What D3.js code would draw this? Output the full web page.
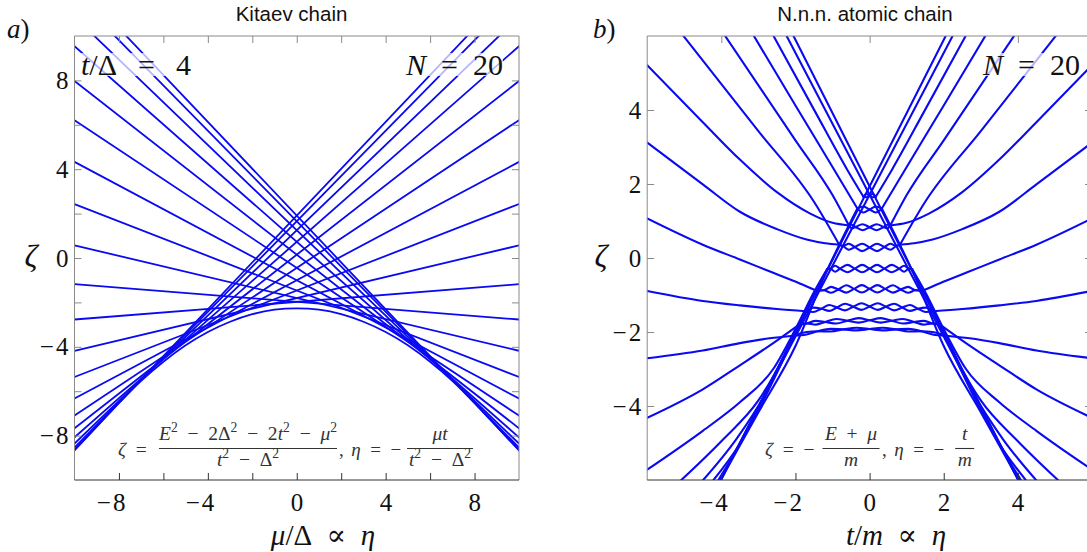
<!DOCTYPE html>
<html>
<head>
<meta charset="utf-8">
<script src="https://cdn.jsdelivr.net/npm/d3@7"></script>
<style>
  html, body { margin: 0; padding: 0; background: #fff; }
  svg { display: block; }
</style>
</head>
<body>
<svg id="fig" width="1087" height="552"></svg>
<script>
// ================= Kitaev chain, t/Δ = 4, N = 20 =================
// bulk levels are straight in μ/Δ: ζ at μ/Δ = −10 and at μ/Δ = +10
const kitaevMuEnds = [-10, 10];
const kitaevLeft  = [-8.64, -8.54, -8.36, -8.08, -7.67, -7.10, -6.33, -5.36, -4.18, -2.77,
                     -1.18,  0.57,  2.43,  4.33,  6.21,  7.97,  9.54, 10.86, 11.85, 12.46];
const kitaevRight = [12.46, 11.85, 10.86,  9.54,  7.97,  6.21,  4.33,  2.43,  0.57, -1.18,
                     -2.77, -4.18, -5.36, -6.33, -7.10, -7.67, -8.08, -8.36, -8.54, -8.64];
// zero-energy (edge) branch
const kitaevEdgeMu   = [-10, -9, -8, -7, -6, -5, -4, -3, -2, -1, 0, 1, 2, 3, 4, 5, 6, 7, 8, 9, 10];
const kitaevEdgeZeta = [-8.67, -7.60, -6.53, -5.53, -4.67, -3.93, -3.33, -2.87, -2.53, -2.33, -2.27,
                        -2.33, -2.53, -2.87, -3.33, -3.93, -4.67, -5.53, -6.53, -7.60, -8.67];
const kitaevTicks  = [-8, -6, -4, -2, 0, 2, 4, 6, 8];
const kitaevLabels = [-8, -4, 0, 4, 8];

// ================= N.n.n. atomic chain, N = 20 =================
// steepest levels, straight through the apex: ζ at t/m = −6 and +6
const chainEtaEnds = [-6, 6];
const chainCrossL  = [13.82, 13.21, -9.79, -9.95];
const chainCrossR  = [-9.95, -9.79, 13.21, 13.82];

// levels coming in from the left, [t/m, ζ], each ending where it joins a braid
const chainFeedLeft = [
  [[-2.70, 6.20], [-1.5, 4.01], [-0.6, 2.38], [-0.17, 1.66]],
  [[-3.30, 6.30], [-2.0, 4.12], [-1.0, 2.46], [-0.33, 1.34]],
  [[-4.05, 6.23], [-2.0, 3.18], [-1.0, 1.70], [-0.56, 0.88]],
  [[-5.10, 6.10], [-3.0, 3.43], [-1.5, 1.52], [-0.82, 0.36]],
  [[-6.0, 5.21], [-4.5, 3.67], [-3.5, 2.66], [-2.5, 1.78], [-1.6, 1.20], [-1.0, 0.95], [-0.56, 0.88]],
  [[-6.0, 3.12], [-4.5, 1.99], [-3.5, 1.25], [-2.5, 0.78], [-1.7, 0.50], [-1.2, 0.40], [-0.82, 0.36]],
  [[-6.0, 1.07], [-4.5, 0.36], [-3.5, -0.04], [-2.6, -0.40], [-1.9, -0.68], [-1.44, -0.88]],
  [[-6.0, -0.89], [-4.5, -1.16], [-3.5, -1.28], [-2.5, -1.38], [-1.72, -1.44]],
  [[-6.0, -2.71], [-4.5, -2.50], [-3.5, -2.30], [-2.7, -2.17], [-2.05, -2.10]],
  [[-6.0, -4.32], [-4.5, -3.55], [-3.5, -2.90], [-2.6, -2.30], [-1.9, -1.80]],
  [[-6.0, -5.72], [-4.5, -4.67], [-3.5, -3.90], [-2.6, -3.00], [-2.0, -1.92], [-1.5, -0.92], [-1.15, -0.30]],
  [[-5.08, -6.0], [-4.0, -4.95], [-3.0, -3.85], [-2.2, -2.45], [-1.8, -1.62], [-1.44, -0.88]],
  [[-4.49, -6.0], [-3.6, -4.90], [-2.8, -3.65], [-2.2, -2.42], [-1.72, -1.44]],
  [[-4.21, -6.0], [-3.5, -5.02], [-2.8, -3.72], [-2.3, -2.68], [-1.9, -1.80]],
  [[-4.08, -6.0], [-3.4, -4.85], [-2.8, -3.68], [-2.4, -2.85], [-2.05, -2.10]],
  [[-4.02, -6.0], [-3.0, -4.17], [-2.0, -2.38], [-1.2, -0.45], [-0.7, 0.60], [-0.33, 1.34]]
];
// the same levels leaving on the right
const chainFeedRight = [
  [[2.70, 6.20], [1.5, 4.01], [0.6, 2.38], [0.17, 1.66]],
  [[3.30, 6.30], [2.0, 4.12], [1.0, 2.46], [0.33, 1.34]],
  [[4.05, 6.23], [2.0, 3.18], [1.0, 1.70], [0.56, 0.88]],
  [[5.10, 6.10], [3.0, 3.43], [1.5, 1.52], [0.82, 0.36]],
  [[6.0, 5.21], [4.5, 3.67], [3.5, 2.66], [2.5, 1.78], [1.6, 1.20], [1.0, 0.95], [0.56, 0.88]],
  [[6.0, 3.12], [4.5, 1.99], [3.5, 1.25], [2.5, 0.78], [1.7, 0.50], [1.2, 0.40], [0.82, 0.36]],
  [[6.0, 1.07], [4.5, 0.36], [3.5, -0.04], [2.6, -0.40], [1.9, -0.68], [1.44, -0.88]],
  [[6.0, -0.89], [4.5, -1.16], [3.5, -1.28], [2.5, -1.38], [1.72, -1.44]],
  [[6.0, -2.71], [4.5, -2.50], [3.5, -2.30], [2.7, -2.17], [2.05, -2.10]],
  [[6.0, -4.32], [4.5, -3.55], [3.5, -2.90], [2.6, -2.30], [1.9, -1.80]],
  [[6.0, -5.72], [4.5, -4.67], [3.5, -3.90], [2.6, -3.00], [2.0, -1.92], [1.5, -0.92], [1.15, -0.30]],
  [[5.08, -6.0], [4.0, -4.95], [3.0, -3.85], [2.2, -2.45], [1.8, -1.62], [1.44, -0.88]],
  [[4.49, -6.0], [3.6, -4.90], [2.8, -3.65], [2.2, -2.42], [1.72, -1.44]],
  [[4.21, -6.0], [3.5, -5.02], [2.8, -3.72], [2.3, -2.68], [1.9, -1.80]],
  [[4.08, -6.0], [3.4, -4.85], [2.8, -3.68], [2.4, -2.85], [2.05, -2.10]],
  [[4.02, -6.0], [3.0, -4.17], [2.0, -2.38], [1.2, -0.45], [0.7, 0.60], [0.33, 1.34]]
];
// braided pairs inside the triangle: first strand of each pair
const chainBraidA = [
  [[-0.17, 1.66], [-0.085, 1.73], [0, 1.683], [0.085, 1.64], [0.17, 1.66]],
  [[-0.33, 1.34], [-0.165, 1.39], [0, 1.31], [0.165, 1.23], [0.33, 1.34]],
  [[-0.56, 0.88], [-0.48, 0.90], [-0.38, 0.838], [-0.19, 0.752], [0, 0.831], [0.19, 0.912], [0.38, 0.838], [0.48, 0.80], [0.56, 0.88]],
  [[-0.82, 0.36], [-0.72, 0.325], [-0.56, 0.385], [-0.4, 0.295], [-0.2, 0.187], [0, 0.285], [0.2, 0.387], [0.4, 0.295], [0.56, 0.225], [0.72, 0.325], [0.82, 0.36]],
  [[-1.15, -0.30], [-1.06, -0.29], [-0.93, -0.21], [-0.8, -0.288], [-0.6, -0.385], [-0.4, -0.286], [-0.2, -0.185], [0, -0.285], [0.2, -0.385], [0.4, -0.286], [0.6, -0.185], [0.8, -0.288], [0.93, -0.37], [1.06, -0.29], [1.15, -0.30]],
  [[-1.44, -0.88], [-1.24, -0.87], [-1.04, -0.78], [-0.84, -0.85], [-0.63, -0.935], [-0.42, -0.834], [-0.21, -0.732], [0, -0.831], [0.21, -0.932], [0.42, -0.834], [0.63, -0.735], [0.84, -0.85], [1.04, -0.94], [1.24, -0.87], [1.44, -0.88]],
  [[-1.72, -1.44], [-1.52, -1.46], [-1.3, -1.37], [-1.09, -1.27], [-0.88, -1.34], [-0.66, -1.415], [-0.44, -1.316], [-0.22, -1.222], [0, -1.31], [0.22, -1.402], [0.44, -1.316], [0.66, -1.235], [0.88, -1.34], [1.09, -1.43], [1.3, -1.37], [1.52, -1.34], [1.72, -1.44]],
  [[-1.9, -1.8], [-1.7, -1.77], [-1.45, -1.70], [-1.2, -1.73], [-0.9, -1.77], [-0.6, -1.695], [-0.3, -1.626], [0, -1.683], [0.3, -1.746], [0.6, -1.695], [0.9, -1.65], [1.2, -1.73], [1.45, -1.80], [1.7, -1.77], [1.9, -1.8]],
  [[-2.05, -2.1], [-1.7, -2.0], [-1.4, -1.98], [-1.05, -1.985], [-0.7, -1.93], [-0.35, -1.887], [0, -1.919], [0.35, -1.957], [0.7, -1.93], [1.05, -1.915], [1.4, -1.98], [1.7, -2.065], [2.05, -2.1]]
];
// second strand of each pair
const chainBraidB = [
  [[-0.17, 1.66], [-0.085, 1.64], [0, 1.683], [0.085, 1.73], [0.17, 1.66]],
  [[-0.33, 1.34], [-0.165, 1.23], [0, 1.31], [0.165, 1.39], [0.33, 1.34]],
  [[-0.56, 0.88], [-0.48, 0.80], [-0.38, 0.838], [-0.19, 0.912], [0, 0.831], [0.19, 0.752], [0.38, 0.838], [0.48, 0.90], [0.56, 0.88]],
  [[-0.82, 0.36], [-0.72, 0.325], [-0.56, 0.225], [-0.4, 0.295], [-0.2, 0.387], [0, 0.285], [0.2, 0.187], [0.4, 0.295], [0.56, 0.385], [0.72, 0.325], [0.82, 0.36]],
  [[-1.15, -0.30], [-1.06, -0.29], [-0.93, -0.37], [-0.8, -0.288], [-0.6, -0.185], [-0.4, -0.286], [-0.2, -0.385], [0, -0.285], [0.2, -0.185], [0.4, -0.286], [0.6, -0.385], [0.8, -0.288], [0.93, -0.21], [1.06, -0.29], [1.15, -0.30]],
  [[-1.44, -0.88], [-1.24, -0.87], [-1.04, -0.94], [-0.84, -0.85], [-0.63, -0.735], [-0.42, -0.834], [-0.21, -0.932], [0, -0.831], [0.21, -0.732], [0.42, -0.834], [0.63, -0.935], [0.84, -0.85], [1.04, -0.78], [1.24, -0.87], [1.44, -0.88]],
  [[-1.72, -1.44], [-1.52, -1.34], [-1.3, -1.37], [-1.09, -1.43], [-0.88, -1.34], [-0.66, -1.235], [-0.44, -1.316], [-0.22, -1.402], [0, -1.31], [0.22, -1.222], [0.44, -1.316], [0.66, -1.415], [0.88, -1.34], [1.09, -1.27], [1.3, -1.37], [1.52, -1.46], [1.72, -1.44]],
  [[-1.9, -1.8], [-1.7, -1.77], [-1.45, -1.80], [-1.2, -1.73], [-0.9, -1.65], [-0.6, -1.695], [-0.3, -1.746], [0, -1.683], [0.3, -1.626], [0.6, -1.695], [0.9, -1.77], [1.2, -1.73], [1.45, -1.70], [1.7, -1.77], [1.9, -1.8]],
  [[-2.05, -2.1], [-1.7, -2.065], [-1.4, -1.98], [-1.05, -1.915], [-0.7, -1.93], [-0.35, -1.957], [0, -1.919], [0.35, -1.887], [0.7, -1.93], [1.05, -1.985], [1.4, -1.98], [1.7, -2.0], [2.05, -2.1]]
];
const chainXTicks   = [-4, -2, 0, 2, 4];
const chainTopTicks = [-4, 0, 4];
const chainYTicks   = [-4, -2, 0, 2, 4];

const BLUE = "#0a0af2";
const SERIF = "'Liberation Serif', 'DejaVu Serif', serif";
const SANS = "'Liberation Sans', Arial, sans-serif";
const EN = "\u2002";
const svg = d3.select("#fig");
svg.append("rect").attr("width", 1087).attr("height", 552).attr("fill", "#fff");

function fmt(v) { return v < 0 ? "\u2212\u200a" + Math.abs(v) : String(v); }

function drawPanel(cfg) {
  const { x, y, id } = cfg;
  const [x0, x1] = x.range();
  const [yb, yt] = y.range();
  const g = svg.append("g");

  svg.append("clipPath").attr("id", id).append("rect")
    .attr("x", x0).attr("y", yt).attr("width", x1 - x0).attr("height", yb - yt);

  const curves = g.append("g").attr("clip-path", `url(#${id})`)
    .attr("fill", "none").attr("stroke", BLUE).attr("stroke-width", cfg.lw)
    .attr("stroke-linejoin", "round").attr("stroke-linecap", "round");
  cfg.draw(curves);

  const fr = g.append("g").attr("fill", "none");
  fr.append("line").attr("x1", x0).attr("x2", x1).attr("y1", yt).attr("y2", yt).attr("stroke", "#8a8a8a");
  fr.append("line").attr("x1", x1).attr("x2", x1).attr("y1", yt).attr("y2", yb).attr("stroke", "#8a8a8a");
  fr.append("line").attr("x1", x0).attr("x2", x0).attr("y1", yt).attr("y2", yb).attr("stroke", "#8a8a8a");
  fr.append("line").attr("x1", x0).attr("x2", x1).attr("y1", yb).attr("y2", yb).attr("stroke", "#333");

  const tk = 7;
  g.append("g").attr("transform", `translate(0,${yb})`)
    .call(d3.axisBottom(x).tickValues(cfg.xTicks).tickSize(-tk).tickFormat(""))
    .call(s => { s.select(".domain").remove(); s.selectAll("line").attr("stroke", "#333"); });
  g.append("g").attr("transform", `translate(0,${yt})`)
    .call(d3.axisTop(x).tickValues(cfg.topTicks).tickSize(-tk).tickFormat(""))
    .call(s => { s.select(".domain").remove(); s.selectAll("line").attr("stroke", "#8a8a8a"); });
  g.append("g").attr("transform", `translate(${x0},0)`)
    .call(d3.axisLeft(y).tickValues(cfg.yTicks).tickSize(-tk).tickFormat(""))
    .call(s => { s.select(".domain").remove(); s.selectAll("line").attr("stroke", "#8a8a8a"); });
  g.append("g").attr("transform", `translate(${x1},0)`)
    .call(d3.axisRight(y).tickValues(cfg.yTicks).tickSize(-tk).tickFormat(""))
    .call(s => { s.select(".domain").remove(); s.selectAll("line").attr("stroke", "#8a8a8a"); });

  // tick labels: digit centred on its tick, minus sign hanging to the left
  const lab = sel => sel.style("font-family", SERIF).attr("font-size", 25).attr("fill", "#111")
    .attr("text-anchor", "end").text(fmt);
  g.append("g").selectAll("text").data(cfg.xLabels).join("text")
    .attr("x", d => x(d) + 6.5).attr("y", yb + 31).call(lab);
  g.append("g").selectAll("text").data(cfg.yLabels).join("text")
    .attr("x", x0 - 6).attr("y", d => y(d) + 8.5).call(lab);
  return g;
}

// ---------- panel a ----------
const xA = d3.scaleLinear().domain([-10, 10]).range([74.5, 519]);
const yA = d3.scaleLinear().domain([-10, 10]).range([480, 36]);
const lineA = d3.line().x(d => xA(d[0])).y(d => yA(d[1]));

drawPanel({
  id: "clipA", x: xA, y: yA, lw: 1.8,
  xTicks: kitaevTicks, topTicks: kitaevTicks, yTicks: kitaevTicks,
  xLabels: kitaevLabels, yLabels: kitaevLabels,
  draw: g => {
    g.selectAll("path.bulk").data(d3.range(kitaevLeft.length)).join("path")
      .attr("class", "bulk")
      .attr("d", i => lineA([[kitaevMuEnds[0], kitaevLeft[i]], [kitaevMuEnds[1], kitaevRight[i]]]));
    g.append("path")
      .attr("d", d3.line().curve(d3.curveNatural).x((d, i) => xA(kitaevEdgeMu[i])).y(d => yA(d))(kitaevEdgeZeta));
  }
});

// ---------- panel b ----------
const xB = d3.scaleLinear().domain([-6, 6]).range([647.2, 1092]);
const yB = d3.scaleLinear().domain([-6, 6]).range([480, 36]);
const lineB = d3.line().x(d => xB(d[0])).y(d => yB(d[1]));
const smoothB = d3.line().curve(d3.curveMonotoneX).x(d => xB(d[0])).y(d => yB(d[1]));

drawPanel({
  id: "clipB", x: xB, y: yB, lw: 2.1,
  xTicks: chainXTicks, topTicks: chainTopTicks, yTicks: chainYTicks,
  xLabels: chainXTicks, yLabels: chainYTicks,
  draw: g => {
    g.selectAll("path.cross").data(d3.range(chainCrossL.length)).join("path")
      .attr("class", "cross")
      .attr("d", i => lineB([[chainEtaEnds[0], chainCrossL[i]], [chainEtaEnds[1], chainCrossR[i]]]));
    g.selectAll("path.feedL").data(chainFeedLeft).join("path").attr("class", "feedL")
      .attr("d", d => smoothB(d));
    g.selectAll("path.feedR").data(chainFeedRight).join("path").attr("class", "feedR")
      .attr("d", d => smoothB(d.slice().reverse()));
    g.selectAll("path.brA").data(chainBraidA).join("path").attr("class", "brA")
      .attr("d", d => smoothB(d));
    g.selectAll("path.brB").data(chainBraidB).join("path").attr("class", "brB")
      .attr("d", d => smoothB(d));
  }
});

// ---------- text ----------
// runs of [string, italic, superscript]
function mathText(x, y, runs, size, anchor, fill) {
  const t = svg.append("text").attr("x", x).attr("y", y).attr("text-anchor", anchor || "start")
    .style("font-family", SERIF).attr("font-size", size).attr("fill", fill || "#111");
  let raised = false;
  runs.forEach(r => {
    const sp = t.append("tspan").attr("font-style", r[1] ? "italic" : "normal");
    if (r[2]) {
      sp.attr("font-size", size * 0.7);
      if (!raised) sp.attr("dy", -size * 0.42);
      raised = true;
    } else if (raised) {
      sp.attr("dy", size * 0.42);
      raised = false;
    }
    sp.text(r[0]);
  });
  return t;
}
function veil(t, padY) {
  const b = t.node().getBBox();
  svg.insert("rect", () => t.node()).attr("x", b.x).attr("y", b.y + padY).attr("width", b.width)
    .attr("height", b.height - 2 * padY).attr("fill", "#fff").attr("opacity", 0.7);
}

// panel letters
mathText(7, 38, [["a", true], [")", false]], 27);
mathText(593, 38, [["b", true], [")", false]], 27);

// titles
svg.append("text").attr("x", 291.5).attr("y", 21).attr("text-anchor", "middle")
  .style("font-family", SANS).attr("font-size", 20.5).attr("fill", "#111").text("Kitaev chain");
svg.append("text").attr("x", 865).attr("y", 21).attr("text-anchor", "middle")
  .style("font-family", SANS).attr("font-size", 20.5).attr("fill", "#111").text("N.n.n. atomic chain");

// parameter labels inside the frames
const WIDE = "\u2002\u2009";
veil(mathText(81, 75, [["t", true], ["/\u0394" + WIDE + "=" + WIDE + "4", false]], 30), 5);
veil(mathText(503, 75, [["N", true], [EN + "=" + EN + "20", false]], 30, "end"), 5);
veil(mathText(1080, 75, [["N", true], [EN + "=" + EN + "20", false]], 30, "end"), 5);

// axis titles
mathText(31, 267, [["\u03b6", true]], 32, "middle");
mathText(601, 267, [["\u03b6", true]], 32, "middle");
mathText(323, 545, [["\u03bc", true], ["/\u0394" + EN + "\u221d" + EN, false], ["\u03b7", true]], 29, "middle");
mathText(896, 545, [["t", true], ["/", false], ["m", true], [EN + "\u221d" + EN, false], ["\u03b7", true]], 29, "middle");

// definitions of ζ and η
const FS = 19.5, INK = "#333";
const MINUS = EN + "\u2212" + EN;
function frac(cx, num, den, w) {
  mathText(cx, 440, num, FS, "middle", INK);
  mathText(cx, 466, den, FS, "middle", INK);
  svg.append("line").attr("x1", cx - w / 2).attr("x2", cx + w / 2).attr("y1", 448.5).attr("y2", 448.5)
    .attr("stroke", INK).attr("stroke-width", 1.1);
}
mathText(118, 456, [["\u03b6", true], [EN + "=", false]], FS, "start", INK);
frac(248, [["E", true], ["2", false, true], [MINUS + "2\u0394", false], ["2", false, true], [MINUS + "2", false],
           ["t", true], ["2", false, true], [MINUS, false], ["\u03bc", true], ["2", false, true]],
     [["t", true], ["2", false, true], [MINUS + "\u0394", false], ["2", false, true]], 178);
mathText(339, 456, [[",\u2009\u2009", false], ["\u03b7", true], [EN + "=" + EN + "\u2212", false]], 19, "start", INK);
frac(440, [["\u03bct", true]], [["t", true], ["2", false, true], [MINUS + "\u0394", false], ["2", false, true]], 66);

mathText(765, 456, [["\u03b6", true], [EN + "=" + EN + "\u2212", false]], FS, "start", INK);
frac(851, [["E", true], [EN + "+" + EN, false], ["\u03bc", true]], [["m", true]], 57);
mathText(882, 456, [[",\u2009\u2009", false], ["\u03b7", true], [EN + "=" + EN + "\u2212", false]], 19, "start", INK);
frac(964.7, [["t", true]], [["m", true]], 19);
</script>
</body>
</html>
